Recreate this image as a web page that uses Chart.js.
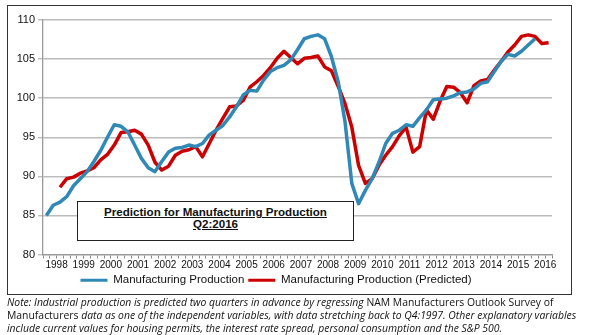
<!DOCTYPE html>
<html>
<head>
<meta charset="utf-8">
<script src="https://cdn.jsdelivr.net/npm/chart.js@4.4.1/dist/chart.umd.min.js"></script>
<style>
  html, body { margin: 0; padding: 0; background: #fff; }
  body { width: 595px; height: 335px; position: relative; overflow: hidden; font-family: "Liberation Sans", Arial, sans-serif; }
  #frame { position: absolute; left: 7px; top: 5px; width: 563px; height: 288px; border: 1.5px solid #333; }
  #wrap { position: absolute; left: 0; top: 0; width: 595px; height: 296px; }
  #box { position: absolute; left: 77px; top: 201px; width: 275px; height: 38px; border: 1.5px solid #222; background: #fff;
         font-weight: bold; font-size: 11.6px; text-align: center; line-height: 11.5px; color: #111; z-index: 2; }
  #box div { text-decoration: underline; }
  #note { position: absolute; left: 7px; top: 296px; font-family: "Open Sans", sans-serif; font-size: 10.4px; line-height: 13px; color: #111; white-space: nowrap; }
</style>
</head>
<body>
<div id="frame"></div>
<div id="wrap"><canvas id="c" width="595" height="296"></canvas></div>
<div id="box"><div style="margin-top:4px">Prediction for Manufacturing Production</div><div>Q2:2016</div></div>
<div id="note"><i>Note: Industrial production is predicted two quarters in advance by regressing </i>NAM Manufacturers Outlook Survey of<br>Manufacturers <i>data as one of the independent variables, with data stretching back to Q4:1997. Other explanatory variables</i><br><i>include current values for housing permits, the interest rate spread, personal consumption and the S&amp;P 500.</i></div>
<script>
// Quarterly categories: 1998 Q1 .. 2016 Q3
const quarters = [];
for (let y = 1998; y <= 2016; y++) for (let q = 1; q <= 4; q++) { if (y === 2016 && q > 3) break; quarters.push(y + 'Q' + q); }

const yTicks = [80, 85, 90, 95, 100, 105, 110];

// Manufacturing Production (actual), 1998Q1 .. 2016Q1
const actual = [
  85.0, 86.3, 86.7, 87.4, 88.8, 89.7, 90.6, 91.9,
  93.3, 95.0, 96.6, 96.4, 95.7, 94.0, 92.3, 91.1,
  90.6, 91.9, 93.1, 93.6, 93.7, 94.0, 93.8, 94.2,
  95.3, 95.9, 96.5, 97.6, 98.9, 100.4, 101.0, 100.9,
  102.3, 103.4, 103.9, 104.2, 104.9, 106.2, 107.6, 107.9,
  108.1, 107.6, 105.3, 102.1, 97.0, 89.1, 86.5, 88.2,
  89.7, 91.8, 94.2, 95.5, 95.9, 96.6, 96.4, 97.5,
  98.5, 99.8, 99.9, 100.0, 100.3, 100.7, 100.8, 101.2,
  101.9, 102.1, 103.4, 104.7, 105.6, 105.4, 106.0, 106.8,
  107.6, null, null
];

// Manufacturing Production (Predicted), 1998Q3 .. 2016Q3
const predicted = [
  null, null, 88.6, 89.7, 89.9, 90.4, 90.7, 91.1,
  92.1, 92.8, 94.0, 95.6, 95.7, 95.9, 95.4, 94.0,
  91.8, 90.8, 91.3, 92.7, 93.2, 93.4, 93.8, 92.5,
  94.2, 95.9, 97.4, 98.9, 99.0, 99.7, 101.4, 102.1,
  102.9, 103.9, 105.1, 106.0, 105.2, 104.4, 105.1, 105.2,
  105.4, 104.0, 103.5, 101.5, 99.3, 96.3, 91.4, 89.1,
  89.7, 91.4, 92.7, 93.8, 95.2, 96.3, 93.1, 93.8,
  98.5, 97.3, 99.6, 101.5, 101.4, 100.7, 99.4, 101.6,
  102.2, 102.4, 103.6, 104.7, 105.9, 106.8, 107.9, 108.1,
  107.9, 107.0, 107.1
];

function qx(label) { // centre of quarter in year units
  const y = parseInt(label.slice(0, 4), 10), q = parseInt(label.slice(5), 10);
  return y + (q - 1) / 4 + 0.125;
}
const toPts = arr => quarters.map((lab, i) => ({ x: qx(lab), y: arr[i] }));

new Chart(document.getElementById('c'), {
  type: 'line',
  data: {
    datasets: [
      { label: 'Manufacturing Production', data: toPts(actual), borderColor: '#2f88b5', backgroundColor: '#2f88b5',
        borderWidth: 3.5, pointRadius: 0, tension: 0, borderJoinStyle: 'round', spanGaps: false },
      { label: 'Manufacturing Production (Predicted)', data: toPts(predicted), borderColor: '#cc0000', backgroundColor: '#cc0000',
        borderWidth: 3.5, pointRadius: 0, tension: 0, borderJoinStyle: 'round', spanGaps: false }
    ]
  },
  options: {
    responsive: false,
    animation: false,
    layout: { padding: { left: 0, right: 43, top: 20, bottom: 0 } },
    plugins: {
      tooltip: { enabled: false },
      legend: {
        position: 'bottom',
        labels: {
          boxWidth: 27, boxHeight: 3, padding: 4, color: '#111',
          font: { family: 'Liberation Sans', size: 11.5 },
          generateLabels(chart) {
            return Chart.defaults.plugins.legend.labels.generateLabels(chart).map(l => ({ ...l, lineWidth: 0, fillStyle: l.strokeStyle }));
          }
        }
      }
    },
    scales: {
      x: {
        type: 'linear', min: 1998, max: 2016.75,
        afterFit(s) { s.height = 16; },
        border: { color: '#9a9a9a', width: 1.3 },
        grid: { drawOnChartArea: false, drawTicks: true, tickLength: 4, color: '#8a8a8a' },
        ticks: {
          stepSize: 0.25, autoSkip: false, maxRotation: 0, padding: 1, color: '#111',
          font: { family: 'Liberation Sans', size: 10 },
          callback(v) { const f = v - Math.floor(v); return Math.abs(f - 0.5) < 1e-6 ? String(Math.floor(v)) : ''; }
        }
      },
      y: {
        min: 80, max: 110,
        afterFit(s) { s.width = 43; },
        afterBuildTicks(s) { s.ticks = yTicks.map(v => ({ value: v })); },
        border: { color: '#9a9a9a', width: 1.3 },
        grid: { color: '#bcbcbc', lineWidth: 1.4, tickLength: 5 },
        ticks: { stepSize: 5, padding: 3, color: '#111', font: { family: 'Liberation Sans', size: 11 } }
      }
    }
  }
});
</script>
</body>
</html>
